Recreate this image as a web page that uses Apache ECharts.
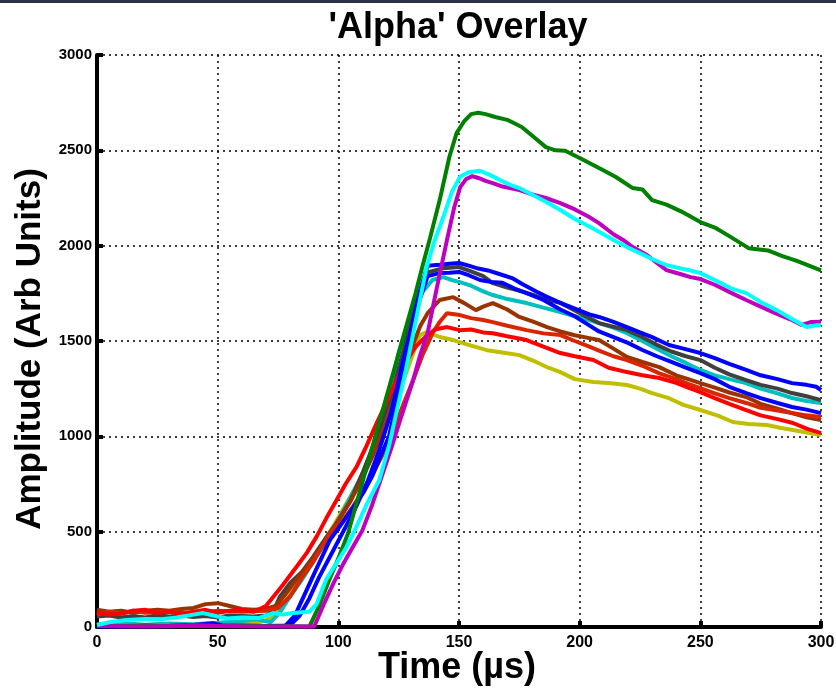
<!DOCTYPE html>
<html>
<head>
<meta charset="utf-8">
<script src="https://cdn.jsdelivr.net/npm/echarts@6/dist/echarts.min.js"></script>
<style>
  html, body { margin: 0; padding: 0; background: #fff; }
  #chart { width: 836px; height: 689px; }
</style>
</head>
<body>
<div id="chart"></div>
<script>
// Pulse traces: [time (µs), amplitude (arb units)]
const green = [[0,10],[10,5],[20,8],[30,5],[40,10],[50,5],[60,8],[70,5],[80,4],[88,2],[92,110],[96,240],[100,360],[104,490],[108,670],[112,850],[116,1030],[120,1210],[124,1390],[128,1570],[132,1750],[135,1898],[138,2040],[142,2239],[146,2465],[149,2590],[152,2650],[155,2690],[158,2697],[161,2690],[165,2675],[170,2660],[176,2622],[181,2570],[186,2517],[190,2500],[194,2498],[200,2460],[208,2407],[215,2360],[222,2302],[226,2295],[230,2239],[236,2215],[242,2180],[250,2124],[256,2095],[262,2050],[270,1987],[278,1975],[284,1945],[290,1920],[295,1895],[300,1870]];
const magenta = [[0,5],[20,3],[40,6],[60,4],[80,3],[90,3],[94,120],[98,230],[102,330],[106,420],[110,508],[114,640],[118,790],[122,940],[126,1100],[131,1295],[134,1430],[137,1542],[141,1790],[145,2029],[148,2200],[150.5,2307],[153,2350],[155.5,2365],[158,2355],[161,2340],[164,2328],[168,2310],[172,2300],[175,2292],[180,2270],[186,2250],[192,2223],[198,2190],[204,2150],[208,2118],[214,2060],[218,2030],[222,1993],[228,1950],[232,1910],[236,1872],[242,1850],[246,1835],[250,1825],[256,1795],[263,1751],[269,1715],[275,1680],[281,1646],[287,1615],[292,1584],[296,1600],[300,1601]];
const cyan = [[0,10],[5,25],[12,37],[20,42],[26,40],[33,50],[40,65],[44,73],[50,55],[54,45],[60,50],[67,47],[73,73],[77,65],[81,73],[88,80],[91,120],[95,250],[100,350],[103.5,421],[108,540],[112,650],[117,771],[121,950],[124,1122],[128,1350],[132,1600],[136.6,1889],[140,2030],[143.5,2150],[147,2280],[150.4,2361],[154,2385],[158.7,2393],[163,2370],[167,2344],[171,2320],[175,2302],[180,2270],[186,2230],[192,2187],[198,2140],[204,2100],[208,2073],[214,2030],[220,1990],[225,1961],[230,1930],[236,1898],[242,1880],[246,1870],[250,1856],[256,1820],[263,1775],[269,1751],[275,1705],[281.7,1662],[288,1615],[294,1573],[297,1580],[300,1584]];
const blueA = [[0,2],[10,5],[20,3],[30,6],[40,10],[48,20],[52,8],[60,5],[70,4],[78,6],[82,60],[86,170],[90,280],[96.5,456],[103,570],[110.3,703],[114,790],[117,880],[121,1000],[125,1230],[129,1480],[133,1730],[137,1895],[142,1900],[146,1905],[150,1909],[154,1895],[158,1880],[162,1870],[168,1846],[172,1830],[176,1800],[182,1760],[186,1735],[192,1700],[198,1670],[204,1640],[208,1626],[214,1600],[219.6,1573],[225,1545],[230,1520],[237,1479],[243,1460],[250,1437],[256,1410],[262,1380],[269,1348],[275,1320],[282,1300],[288,1279],[294,1270],[298,1260],[300,1243]];
const blueB = [[0,5],[10,3],[20,6],[30,4],[40,8],[50,5],[60,6],[70,5],[80,8],[84,60],[88,150],[92,260],[97,380],[102,500],[107,620],[112,760],[117,930],[122,1130],[127,1400],[132,1650],[137,1840],[142,1856],[146,1858],[150,1862],[154,1845],[158.7,1820],[163,1810],[168,1805],[173,1775],[178,1751],[185,1715],[192,1665],[198,1630],[203,1590],[208,1550],[214,1520],[220,1490],[226,1453],[232,1420],[238,1390],[244,1360],[250,1332],[256,1300],[262,1260],[269,1227],[275,1200],[282,1175],[288,1154],[294,1140],[300,1122]];
const gray = [[0,55],[5,60],[10,50],[15,58],[20,50],[25,62],[30,55],[35,60],[40,52],[45,58],[50,50],[55,60],[60,58],[65,55],[70,60],[73,80],[75.8,159],[80,230],[85,290],[89.6,369],[95,470],[99.3,545],[105,660],[110,807],[117,1033],[122,1210],[127,1450],[132,1700],[137,1860],[143.5,1882],[150,1888],[155,1865],[160,1840],[164,1804],[170,1780],[176,1760],[181,1740],[186.5,1715],[192,1700],[198,1660],[204,1620],[208,1594],[214,1575],[219.6,1557],[226,1520],[232,1480],[238,1445],[244,1420],[250,1400],[256,1360],[262,1325],[269,1295],[275,1270],[282,1250],[288,1227],[294,1210],[300,1190]];
const teal = [[0,15],[10,20],[20,12],[30,18],[40,15],[50,22],[60,30],[66,40],[70,30],[72,25],[76,80],[80,160],[85,250],[90,350],[95,450],[100,560],[105,680],[110,800],[115,950],[120,1150],[125,1440],[130,1640],[135,1760],[139,1820],[143.5,1835],[147,1820],[150.4,1809],[155,1790],[160,1760],[164,1741],[170,1720],[178,1699],[185,1675],[192,1652],[198,1630],[204,1610],[208,1594],[214,1570],[219.6,1541],[226,1500],[232,1460],[238,1420],[244,1385],[250,1348],[256,1320],[262,1300],[269,1279],[275,1250],[282,1225],[288,1201],[294,1185],[300,1175]];
const brown = [[0,90],[5,80],[10,85],[15,75],[20,85],[25,90],[30,85],[35,95],[40,100],[45,120],[50,125],[55,110],[60,95],[65,90],[70,95],[74,110],[78,170],[82,240],[86,300],[90,370],[95,450],[100,560],[105,660],[110,780],[115,920],[120,1080],[125,1270],[130,1450],[134,1580],[137,1646],[142,1715],[147.6,1730],[152,1700],[157,1662],[160,1680],[164,1699],[170,1665],[175,1626],[181,1600],[186.5,1573],[192,1550],[198,1530],[204,1515],[208,1505],[214,1460],[219.6,1416],[226,1390],[233,1363],[240,1320],[245,1300],[250,1279],[256,1255],[262,1230],[269,1206],[275,1170],[282,1145],[288,1122],[294,1100],[300,1085]];
const redOrange = [[0,65],[5,80],[10,70],[15,85],[20,75],[30,80],[40,70],[50,85],[60,80],[70,85],[75,100],[80,160],[85,260],[90,350],[96.5,493],[102,561],[106,630],[110.3,718],[114.5,810],[118.7,912],[123,1040],[127,1170],[131,1295],[135,1430],[139,1540],[142,1600],[145,1646],[150.4,1636],[155,1620],[160,1610],[164,1599],[170,1580],[178,1557],[185,1540],[192,1531],[198,1500],[204,1470],[208,1450],[214,1420],[219.6,1400],[226,1370],[233,1330],[240,1300],[245,1275],[250,1253],[256,1225],[262,1200],[269,1175],[275,1150],[282,1135],[288,1122],[294,1110],[300,1101]];
const red = [[0,75],[5,65],[10,70],[15,85],[20,90],[25,75],[30,80],[35,70],[40,80],[45,90],[50,75],[55,85],[60,90],[65,80],[70,110],[72,142],[77,220],[82.7,316],[87,390],[91,474],[95,570],[99.3,666],[103,750],[107.6,841],[111.7,950],[115.9,1070],[120,1180],[124.2,1295],[128,1390],[132,1470],[136,1520],[140,1560],[145,1573],[150.4,1557],[155,1560],[160,1545],[164,1541],[170,1525],[178,1505],[185,1470],[192,1437],[198,1420],[205.7,1400],[212,1360],[219.6,1337],[226,1320],[233,1306],[240,1280],[245,1255],[250,1232],[256,1200],[262,1170],[269,1138],[275,1110],[282,1090],[288.4,1070],[294,1040],[300,1017]];
const yellow = [[0,10],[10,15],[20,10],[30,15],[40,10],[50,15],[60,15],[65,20],[70,35],[73,52],[78,130],[83,230],[88,330],[93,430],[98,530],[103,640],[108,750],[114.5,912],[118,1010],[122,1130],[126,1260],[130,1400],[133.8,1531],[136.7,1547],[142,1521],[147.6,1505],[154,1480],[161.6,1452],[168,1440],[175,1426],[182,1390],[187,1360],[192,1337],[198,1300],[205.7,1285],[212,1280],[219.6,1269],[225,1250],[230,1227],[237,1200],[243,1165],[250,1138],[257,1110],[263.5,1075],[270,1065],[277.6,1059],[283,1045],[288.4,1033],[294,1020],[300,1007]];

const traces = [
  { data: yellow,    color: '#bfbf00' },
  { data: teal,      color: '#00bfbf' },
  { data: gray,      color: '#404040' },
  { data: brown,     color: '#993300' },
  { data: redOrange, color: '#d92600' },
  { data: red,       color: '#ff0000' },
  { data: blueB,     color: '#0000ff' },
  { data: blueA,     color: '#0000ff' },
  { data: green,     color: '#008000' },
  { data: magenta,   color: '#bf00bf' },
  { data: cyan,      color: '#00ffff' }
];

const xTicks = [0, 50, 100, 150, 200, 250, 300];
const yTicks = [0, 500, 1000, 1500, 2000, 2500, 3000];

const chart = echarts.init(document.getElementById('chart'), null, { renderer: 'canvas' });

const font = 'Liberation Sans, Arial, Helvetica, sans-serif';

chart.setOption({
  animation: false,
  backgroundColor: '#ffffff',
  title: {
    text: "'Alpha' Overlay",
    left: 453,
    textAlign: 'center',
    top: 5,
    textStyle: { fontFamily: font, fontWeight: 'bold', fontSize: 36, color: '#000' }
  },
  graphic: [
    { type: 'rect', shape: { x: 0, y: 0, width: 836, height: 3 }, style: { fill: '#2b3344' }, z: 100 }
  ],
  grid: { left: 97, right: 15, top: 55, bottom: 62, containLabel: false, outerBoundsMode: 'none' },
  xAxis: {
    type: 'value',
    min: xTicks[0],
    max: xTicks[xTicks.length - 1],
    interval: xTicks[1] - xTicks[0],
    name: 'Time (\u00b5s)',
    nameLocation: 'middle',
    nameGap: 23,
    nameMoveOverlap: false,
    nameTextStyle: { fontFamily: font, fontWeight: 'bold', fontSize: 36, color: '#000', padding: [0, 4, 0, 0] },
    axisLine: { show: true, onZero: false, lineStyle: { color: '#000', width: 4 } },
    axisTick: { show: true, inside: true, length: 6, lineStyle: { color: '#000', width: 4 } },
    axisLabel: { fontFamily: font, fontWeight: 'bold', fontSize: 16, color: '#000', margin: 8,
                 formatter: v => String(v) },
    splitLine: { show: true, lineStyle: { color: '#000', type: [2, 4], width: 1.5 } }
  },
  yAxis: {
    type: 'value',
    min: yTicks[0],
    max: yTicks[yTicks.length - 1],
    interval: yTicks[1] - yTicks[0],
    name: 'Amplitude (Arb Units)',
    nameLocation: 'middle',
    nameGap: 43,
    nameTextStyle: { fontFamily: font, fontWeight: 'bold', fontSize: 35, color: '#000', padding: [0, 16, 0, 0] },
    axisLine: { show: true, onZero: false, lineStyle: { color: '#000', width: 4 } },
    axisTick: { show: true, inside: true, length: 6, lineStyle: { color: '#000', width: 4 } },
    axisLabel: { fontFamily: font, fontWeight: 'bold', fontSize: 15, color: '#000', margin: 5,
                 formatter: v => String(v) },
    splitLine: { show: true, lineStyle: { color: '#000', type: [2, 4], width: 1.5 } }
  },
  series: traces.map(t => ({
    type: 'line',
    data: t.data,
    showSymbol: false,
    symbol: 'none',
    smooth: false,
    clip: true,
    lineStyle: { color: t.color, width: 4 },
    itemStyle: { color: t.color }
  }))
});
</script>
</body>
</html>
